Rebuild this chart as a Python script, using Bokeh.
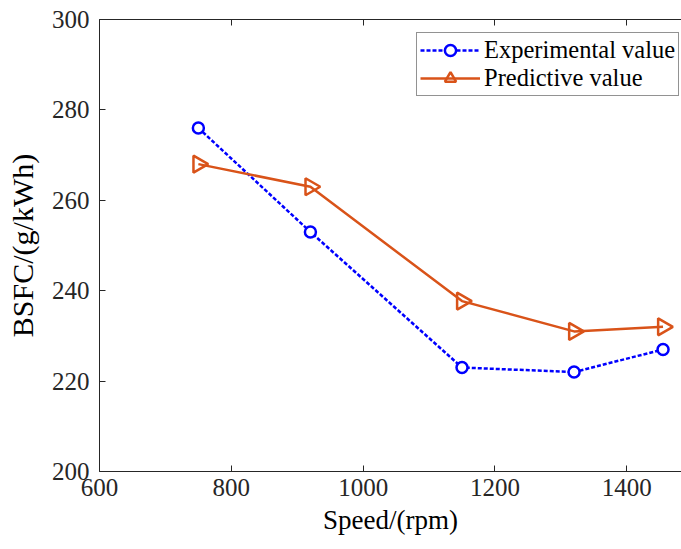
import math
from bokeh.plotting import figure
from bokeh.models import (LinearAxis, FixedTicker, Range1d, Legend, LegendItem,
                          ColumnDataSource)
from bokeh.embed import file_html
from bokeh.resources import INLINE

speed = [750, 920, 1150, 1320, 1455]
experimental = [276, 253, 223, 222, 227]
predictive = [268, 263, 237.7, 231, 232]
x_ticks = [600, 800, 1000, 1200, 1400]
y_ticks = [200, 220, 240, 260, 280, 300]

FONT = "Liberation Serif"
AX = "#262626"
BLUE = "#0000FF"
ORANGE = "#D95319"

p = figure(width=681, height=549, output_backend="svg", toolbar_location=None,
           x_range=Range1d(600, 1483), y_range=Range1d(200, 300),
           x_axis_location=None, y_axis_location=None,
           min_border_left=99, min_border_right=0, min_border_top=19, min_border_bottom=78)
p.outline_line_color = None
p.xgrid.visible = False
p.ygrid.visible = False
p.background_fill_color = "white"
p.border_fill_color = "white"

def style(ax, label_size="25px"):
    ax.axis_line_color = AX
    ax.axis_line_width = 1
    ax.major_tick_line_color = AX
    ax.major_tick_in = 6
    ax.major_tick_out = 0
    ax.minor_tick_line_color = None
    ax.major_label_text_font = FONT
    ax.major_label_text_font_style = "normal"
    ax.major_label_text_font_size = label_size
    ax.major_label_text_color = AX
    ax.axis_label_text_font = FONT
    ax.axis_label_text_font_style = "normal"
    ax.axis_label_text_color = "black"

xb = LinearAxis(ticker=FixedTicker(ticks=x_ticks), axis_label="Speed/(rpm)")
style(xb)
xb.axis_label_text_font_size = "27px"
xb.major_label_standoff = 7
xb.axis_label_standoff = 6
p.add_layout(xb, "below")

yl = LinearAxis(ticker=FixedTicker(ticks=y_ticks), axis_label="BSFC/(g/kWh)")
style(yl)
yl.axis_label_text_font_size = "30px"
yl.major_label_standoff = 10
yl.axis_label_standoff = 10
p.add_layout(yl, "left")

xt = LinearAxis(ticker=FixedTicker(ticks=x_ticks))
style(xt, "1px")
xt.major_label_text_color = None
xt.major_label_standoff = 0
p.add_layout(xt, "above")

src_e = ColumnDataSource(data=dict(x=speed, y=experimental))
src_p = ColumnDataSource(data=dict(x=speed, y=predictive))

l1 = p.line("x", "y", source=src_e, line_color=BLUE, line_width=2.5, line_dash="4 2")
m1 = p.scatter("x", "y", source=src_e, marker="circle", size=11, line_color=BLUE,
               line_width=2.5, fill_color="white")
l2 = p.line("x", "y", source=src_p, line_color=ORANGE, line_width=2.5)
m2 = p.scatter("x", "y", source=src_p, marker="triangle", size=17, angle=-math.pi / 2,
               line_color=ORANGE, line_width=2.5, fill_color=None)

legend = Legend(items=[LegendItem(label="Experimental value", renderers=[l1, m1]),
                       LegendItem(label="Predictive value", renderers=[l2, m2])])
legend.margin = 0
legend.location = (317, 375)
legend.label_text_font = FONT
legend.label_text_font_size = "24.5px"
legend.label_text_color = "black"
legend.glyph_width = 60
legend.glyph_height = 28
legend.label_height = 28
legend.label_standoff = 4
legend.padding = 3
legend.spacing = 0
legend.border_line_color = AX
legend.border_line_width = 1
legend.background_fill_color = "white"
legend.background_fill_alpha = 1
p.add_layout(legend, "center")

open("out.html", "w").write(file_html(p, INLINE))
